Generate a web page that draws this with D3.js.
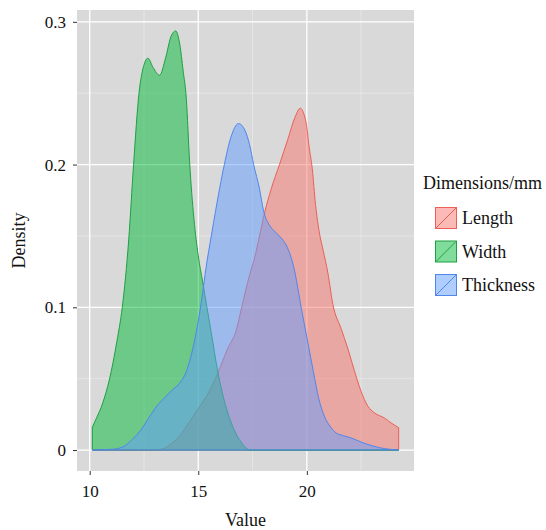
<!DOCTYPE html>
<html>
<head>
<meta charset="utf-8">
<script src="https://cdn.jsdelivr.net/npm/d3@7"></script>
<style>
  body { margin: 0; background: #fff; }
  svg text { font-family: "Liberation Serif", "Times New Roman", serif; fill: #111; }
</style>
</head>
<body>
<div id="chart"></div>
<script>
// series (legend order) and their density curves: [value, density]
const seriesNames = ["Length", "Width", "Thickness"];

const lengthDensity = [
  [10.12, 0], [13.0, 0], [13.4, 0.001], [13.8, 0.005], [14.15, 0.010], [14.6, 0.020],
  [15.0, 0.029], [15.5, 0.041], [15.9, 0.054], [16.35, 0.071], [16.75, 0.084], [17.0, 0.100],
  [17.35, 0.122], [17.6, 0.135], [17.82, 0.150], [18.05, 0.166], [18.36, 0.183], [18.74, 0.200],
  [19.13, 0.218], [19.45, 0.233], [19.7, 0.2395], [19.85, 0.236], [19.97, 0.229], [20.1, 0.213],
  [20.25, 0.197], [20.4, 0.172], [20.58, 0.152], [20.75, 0.140], [20.97, 0.124], [21.2, 0.102],
  [21.58, 0.085], [21.89, 0.071], [22.2, 0.055], [22.5, 0.041], [22.8, 0.031], [23.12, 0.026],
  [23.57, 0.0225], [23.88, 0.019], [24.23, 0.0157]
];

const widthDensity = [
  [10.12, 0.016], [10.3, 0.022], [10.6, 0.033], [10.9, 0.049], [11.25, 0.076], [11.5, 0.100],
  [11.8, 0.148], [12.02, 0.200], [12.27, 0.250], [12.45, 0.267], [12.68, 0.2745], [12.92, 0.268],
  [13.22, 0.2626], [13.5, 0.275], [13.75, 0.290], [13.96, 0.2936], [14.15, 0.284], [14.3, 0.266],
  [14.45, 0.246], [14.6, 0.202], [14.8, 0.162], [15.0, 0.136], [15.2, 0.118], [15.4, 0.100],
  [15.6, 0.082], [15.9, 0.055], [16.3, 0.029], [16.6, 0.016], [17.0, 0.005], [17.4, 0],
  [24.23, 0]
];

const thicknessDensity = [
  [10.12, 0], [11.0, 0.0005], [11.5, 0.002], [12.0, 0.008], [12.3, 0.013], [12.7, 0.022],
  [13.0, 0.029], [13.4, 0.036], [13.8, 0.042], [14.15, 0.047], [14.45, 0.055], [14.65, 0.065],
  [14.85, 0.078], [15.05, 0.095], [15.2, 0.110], [15.35, 0.127], [15.6, 0.150], [15.98, 0.183],
  [16.2, 0.200], [16.5, 0.219], [16.85, 0.2287], [17.15, 0.224], [17.36, 0.214], [17.55, 0.200],
  [17.82, 0.183], [18.0, 0.168], [18.3, 0.157], [18.6, 0.152], [18.85, 0.148], [19.1, 0.142],
  [19.4, 0.128], [19.75, 0.099], [20.05, 0.075], [20.3, 0.055], [20.55, 0.036], [20.8, 0.024],
  [21.1, 0.016], [21.35, 0.012], [21.7, 0.010], [22.0, 0.0087], [22.6, 0.005], [23.0, 0.003],
  [23.4, 0.0015], [24.23, 0]
];

const xTicks = [10, 15, 20];
const xMinor = [12.5, 17.5, 22.5];
const yTicks = [0, 0.1, 0.2, 0.3];
const yTickLabels = ["0", "0.1", "0.2", "0.3"];
const yMinor = [0.05, 0.15, 0.25];

const colors = ["#F8766D", "#00BA38", "#619CFF"];
const lineColors = ["#EC5F56", "#1EA042", "#4F86EC"];

const W = 546, H = 530;
const panel = { left: 77, right: 414, top: 10, bottom: 471 };

const svg = d3.select("#chart").append("svg")
  .attr("width", W).attr("height", H);

const allSeries = [lengthDensity, widthDensity, thicknessDensity];

// ggplot-style 5% expansion of the data range
const xExt = d3.extent(allSeries.flat(), d => d[0]);
const yMax = d3.max(allSeries.flat(), d => d[1]);
const xPad = (xExt[1] - xExt[0]) * 0.05, yPad = yMax * 0.05;

const x = d3.scaleLinear().domain([xExt[0] - xPad, xExt[1] + xPad]).range([panel.left, panel.right]);
const y = d3.scaleLinear().domain([-yPad, yMax + yPad]).range([panel.bottom, panel.top]);

// panel background + grid
svg.append("rect")
  .attr("x", panel.left).attr("y", panel.top)
  .attr("width", panel.right - panel.left).attr("height", panel.bottom - panel.top)
  .attr("fill", "#D9D9D9");

const grid = svg.append("g");
grid.selectAll(".xminor").data(xMinor).enter().append("line")
  .attr("x1", d => x(d)).attr("x2", d => x(d))
  .attr("y1", panel.top).attr("y2", panel.bottom)
  .attr("stroke", "#EBEBEB").attr("stroke-width", 0.7);
grid.selectAll(".yminor").data(yMinor).enter().append("line")
  .attr("y1", d => y(d)).attr("y2", d => y(d))
  .attr("x1", panel.left).attr("x2", panel.right)
  .attr("stroke", "#EBEBEB").attr("stroke-width", 0.7);
grid.selectAll(".xmajor").data(xTicks).enter().append("line")
  .attr("x1", d => x(d)).attr("x2", d => x(d))
  .attr("y1", panel.top).attr("y2", panel.bottom)
  .attr("stroke", "#fff").attr("stroke-width", 1.3);
grid.selectAll(".ymajor").data(yTicks).enter().append("line")
  .attr("y1", d => y(d)).attr("y2", d => y(d))
  .attr("x1", panel.left).attr("x2", panel.right)
  .attr("stroke", "#fff").attr("stroke-width", 1.3);

// density areas, drawn in legend order so Thickness sits on top
const area = d3.area()
  .x(d => x(d[0]))
  .y0(y(0))
  .y1(d => y(d[1]))
  .curve(d3.curveMonotoneX);

svg.append("g").selectAll("path")
  .data(allSeries)
  .enter().append("path")
  .attr("d", area)
  .attr("fill", (d, i) => colors[i])
  .attr("fill-opacity", 0.5)
  .attr("stroke", (d, i) => lineColors[i])
  .attr("stroke-width", 1)
  .attr("stroke-linejoin", "round");

// axes
const xAxis = svg.append("g")
  .attr("transform", `translate(0,${panel.bottom})`)
  .call(d3.axisBottom(x).tickValues(xTicks).tickSize(4).tickPadding(10).tickFormat(d3.format("d")));
const yAxis = svg.append("g")
  .attr("transform", `translate(${panel.left},0)`)
  .call(d3.axisLeft(y).tickValues(yTicks).tickSize(4).tickPadding(7).tickFormat((d, i) => yTickLabels[i]));

[xAxis, yAxis].forEach(a => {
  a.attr("font-family", null);
  a.select(".domain").remove();
  a.selectAll(".tick line").attr("stroke", "#333").attr("stroke-width", 1);
  a.selectAll(".tick text")
    .style("font-family", "'Liberation Serif', 'Times New Roman', serif")
    .style("font-size", "17px").attr("fill", "#111");
});

// axis titles
svg.append("text")
  .attr("x", (panel.left + panel.right) / 2).attr("y", 526)
  .attr("text-anchor", "middle").style("font-size", "18px")
  .text("Value");
svg.append("text")
  .attr("transform", `translate(25,${(panel.top + panel.bottom) / 2}) rotate(-90)`)
  .attr("text-anchor", "middle").style("font-size", "18px")
  .text("Density");

// legend
const legend = svg.append("g").attr("transform", "translate(423,0)");
legend.append("text").attr("x", 0).attr("y", 189)
  .style("font-size", "18px").text("Dimensions/mm");

const keySize = 22;
const keyTops = [207, 240.5, 274];
const keys = legend.selectAll(".key").data(seriesNames).enter().append("g")
  .attr("transform", (d, i) => `translate(12,${keyTops[i]})`);
keys.append("rect")
  .attr("x", 0.5).attr("y", 0.5)
  .attr("width", keySize - 1).attr("height", keySize - 1)
  .attr("fill", (d, i) => colors[i]).attr("fill-opacity", 0.5)
  .attr("stroke", (d, i) => lineColors[i]).attr("stroke-width", 1);
keys.append("line")
  .attr("x1", 1).attr("y1", keySize - 1).attr("x2", keySize - 1).attr("y2", 1)
  .attr("stroke", (d, i) => lineColors[i]).attr("stroke-width", 1);
keys.append("text")
  .attr("x", keySize + 5).attr("y", keySize / 2 + 6)
  .style("font-size", "18px")
  .text(d => d);
</script>
</body>
</html>
